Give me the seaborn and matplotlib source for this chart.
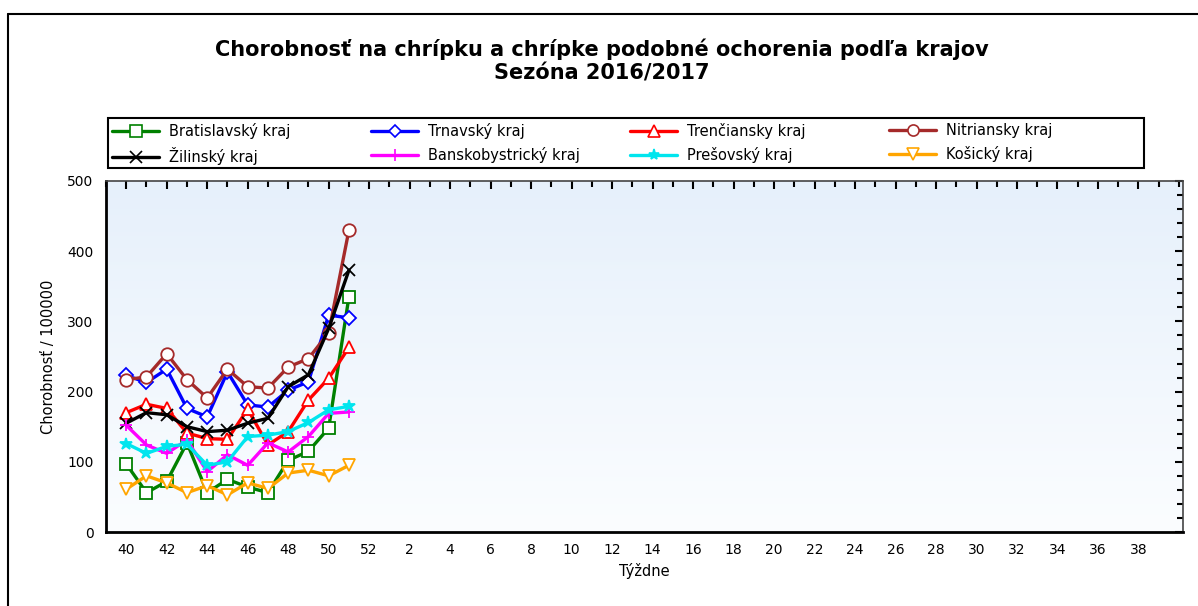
"""
plot.py
    Chorobnost na chripku a ILI podla krajov, sezona 2016/2017
Output:
  - out.png
"""

import numpy as np
import matplotlib
matplotlib.use('Agg')
import matplotlib.pyplot as plt
from matplotlib.ticker import MultipleLocator
from matplotlib.lines import Line2D
from matplotlib.patches import Rectangle
import matplotlib.lines as mlines
import seaborn as sns

# Constant definition
OUT_PATH = 'out.png'
TITLE = 'Chorobnosť na chrípku a chrípke podobné ochorenia podľa krajov\nSezóna 2016/2017'
Y_LABEL = 'Chorobnosť / 100000'
X_LABEL = 'Týždne'

# season weeks in axis order: 40..52, then 1..39
week_labels = [str(w) for w in list(range(40, 53)) + list(range(1, 40))]
weeks = ['40', '41', '42', '43', '44', '45', '46', '47', '48', '49', '50', '51']

bratislavsky = [97, 56, 72, 127, 56, 75, 64, 56, 102, 115, 148, 335]
trnavsky = [223, 213, 232, 176, 164, 228, 181, 178, 202, 214, 309, 305]
trenciansky = [170, 182, 176, 141, 133, 132, 175, 124, 143, 188, 219, 263]
nitriansky = [217, 221, 254, 217, 191, 232, 207, 205, 235, 247, 284, 430]
zilinsky = [155, 170, 167, 150, 143, 145, 155, 162, 207, 224, 290, 373]
banskobystricky = [152, 124, 112, 131, 86, 110, 95, 127, 114, 136, 169, 171]
presovsky = [126, 112, 122, 125, 95, 100, 136, 138, 143, 156, 174, 179]
kosicky = [61, 80, 70, 56, 66, 53, 70, 62, 84, 88, 80, 95]

series = [
    ('Bratislavský kraj', bratislavsky, '#008000', 's'),
    ('Trnavský kraj', trnavsky, '#0000ff', 'D'),
    ('Trenčiansky kraj', trenciansky, '#ff0000', '^'),
    ('Nitriansky kraj', nitriansky, '#a52a2a', 'o'),
    ('Žilinský kraj', zilinsky, '#000000', 'x'),
    ('Banskobystrický kraj', banskobystricky, '#ff00ff', '+'),
    ('Prešovský kraj', presovsky, '#00e5ee', '*'),
    ('Košický kraj', kosicky, '#ffa500', 'v'),
]

sns.set_style('white')
plt.rcParams['font.family'] = ['DejaVu Sans']
for key in ['text.color', 'axes.labelcolor', 'xtick.color', 'ytick.color']:
    plt.rcParams[key] = 'black'

fig = plt.figure(figsize=(11.98, 6.06), dpi=100)
W, H = 1198, 606
ax = fig.add_axes([106 / W, 1 - 532 / H, (1183 - 106) / W, (532 - 181) / H])

# light blue gradient background of the plot area
grad = np.linspace(0, 1, 256).reshape(-1, 1)
cmap = matplotlib.colors.LinearSegmentedColormap.from_list('bg', ['#e6f0fb', '#fbfdff'])
ax.imshow(grad, aspect='auto', cmap=cmap, extent=[0, 1, 0, 1],
          transform=ax.transAxes, zorder=0)

x_pos = {lab: i for i, lab in enumerate(week_labels)}
handles = []
for name, vals, color, marker in series:
    xs = [x_pos[w] for w in weeks]
    filled = marker in ('x', '+', '*')
    sns.lineplot(x=xs, y=vals, ax=ax, color=color, linewidth=2.4,
                 marker=marker, markersize=9 if marker != 'D' else 7.5,
                 markerfacecolor=color if filled else 'white',
                 markeredgecolor=color, markeredgewidth=1.3, zorder=3,
                 legend=False)
    handles.append(Line2D([], [], color=color, linewidth=2.4, marker=marker,
                          markersize=8 if marker != 'D' else 6.5,
                          markerfacecolor=color if filled else 'white',
                          markeredgecolor=color, markeredgewidth=1.2, label=name))

ax.set_xlim(-1, 52.2)
ax.set_ylim(0, 500)
ax.set_xticks(range(0, len(week_labels), 2))
ax.set_xticklabels(week_labels[::2])
ax.xaxis.set_minor_locator(MultipleLocator(1))
ax.yaxis.set_major_locator(MultipleLocator(100))
ax.yaxis.set_minor_locator(MultipleLocator(20))

ax.tick_params(axis='both', which='major', direction='inout', length=10, width=1.5,
               labelsize=10, color='black', top=True, right=True)
ax.tick_params(axis='both', which='minor', direction='inout', length=6, width=1.5,
               color='black', top=True, right=True)
ax.tick_params(axis='x', which='both', pad=3)
ax.tick_params(axis='y', which='both', pad=4)

# top and right ticks point inward only
for tk in ax.xaxis.get_major_ticks():
    tk.tick2line.set_marker(mlines.TICKDOWN)
    tk.tick2line.set_markersize(6)
for tk in ax.xaxis.get_minor_ticks():
    tk.tick2line.set_marker(mlines.TICKDOWN)
    tk.tick2line.set_markersize(4)
for tk in ax.yaxis.get_major_ticks():
    tk.tick2line.set_marker(mlines.TICKLEFT)
    tk.tick2line.set_markersize(6)
for tk in ax.yaxis.get_minor_ticks():
    tk.tick2line.set_marker(mlines.TICKLEFT)
    tk.tick2line.set_markersize(4)

for side in ['left', 'bottom']:
    ax.spines[side].set_linewidth(2)
    ax.spines[side].set_color('black')
for side in ['top', 'right']:
    ax.spines[side].set_linewidth(1.2)
    ax.spines[side].set_color('#444444')

ax.set_xlabel(X_LABEL, fontsize=10.5, labelpad=4)
ax.set_ylabel(Y_LABEL, fontsize=10.5, labelpad=8)

fig.text(602 / W, 1 - 61 / H, TITLE, ha='center', va='center', fontsize=15,
         fontweight='bold', linespacing=1.25)

# legend: box with four evenly spaced columns of two entries each
leg_left, leg_right, leg_top, leg_bottom = 108, 1144, 118, 168
fig.add_artist(Rectangle((leg_left / W, 1 - leg_bottom / H),
                         (leg_right - leg_left) / W, (leg_bottom - leg_top) / H,
                         transform=fig.transFigure, facecolor='white',
                         edgecolor='black', linewidth=1.5, zorder=1))
col_w = (leg_right - leg_left) / 4
for c in range(4):
    col = [handles[c], handles[c + 4]]
    fig.legend(col, [h.get_label() for h in col], loc='upper left',
               bbox_to_anchor=((leg_left + 3 + c * col_w) / W, 1 - (leg_top + 4) / H),
               fontsize=10.5, frameon=False, handlelength=3.2,
               borderaxespad=0, borderpad=0.1, labelspacing=0.55,
               handletextpad=0.7)

# outer frame of the chart
fig.add_artist(Line2D([8 / W, 8 / W], [0, 1 - 14 / H], color='black', linewidth=1.5,
                      transform=fig.transFigure))
fig.add_artist(Line2D([8 / W, 1], [1 - 14 / H, 1 - 14 / H], color='black', linewidth=1.5,
                      transform=fig.transFigure))

fig.savefig(OUT_PATH, dpi=100, facecolor='white')
